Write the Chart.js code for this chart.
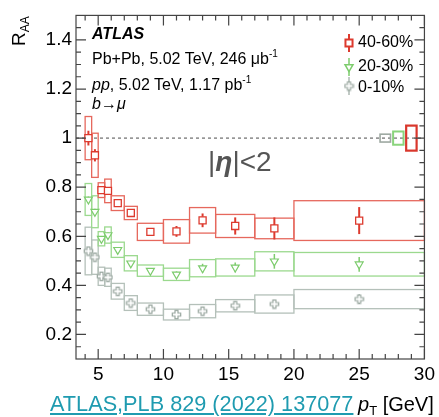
<!DOCTYPE html>
<html>
<head>
<meta charset="utf-8">
<script src="https://cdn.jsdelivr.net/npm/chart.js"></script>
<style>
body { margin: 0; background: #fff; }
#wrap { position: relative; width: 439px; height: 417px; font-family: 'Liberation Sans', Arial, sans-serif; }
.t { position: absolute; white-space: nowrap; color: #000; line-height: 1; }
.t sup { font-size: 10px; vertical-align: 0; position: relative; top: -7px; }
.t sub { vertical-align: 0; position: relative; }
</style>
</head>
<body>
<div id="wrap">
  <canvas id="myChart" width="439" height="417"></canvas>
  <div class="t" style="left:9px;top:46px;font-size:19px;transform:rotate(-90deg);transform-origin:left top;">R<sub style="font-size:12px;top:4px;">AA</sub></div>
  <div class="t" style="left:92px;top:26px;font-size:16px;font-weight:bold;font-style:italic;">ATLAS</div>
  <div class="t" style="left:92px;top:51px;font-size:16px;">Pb+Pb, 5.02 TeV, 246 μb<sup>-1</sup></div>
  <div class="t" style="left:92px;top:77px;font-size:16px;"><i>pp</i>, 5.02 TeV, 1.17 pb<sup>-1</sup></div>
  <div class="t" style="left:92px;top:96px;font-size:16px;"><i>b</i>→<i>μ</i></div>
  <div class="t" style="left:358px;top:34px;font-size:16px;">40-60%</div>
  <div class="t" style="left:358px;top:58px;font-size:16px;">20-30%</div>
  <div class="t" style="left:358px;top:79px;font-size:16px;">0-10%</div>
  <div class="t" style="left:208px;top:148px;font-size:28px;color:#555;">|<b><i>η</i></b>|&lt;2</div>
  <div class="t" style="left:50px;top:393px;font-size:21.7px;color:#1f9bb0;text-decoration:underline;">ATLAS,PLB 829 (2022) 137077</div>
  <div class="t" style="left:358px;top:394px;font-size:20px;"><i>p</i><sub style="font-size:13px;top:4px;">T</sub> [GeV]</div>
</div>
<script>
// pT bins
const binLo = [4, 4.5, 5, 5.5, 6, 7, 8, 10, 12, 14, 17, 20];
const binHi = [4.5, 5, 5.5, 6, 7, 8, 10, 12, 14, 17, 20, 30];

// 40-60%
const raa4060  = [1.00, 0.93, 0.788, 0.785, 0.735, 0.695, 0.618, 0.62, 0.665, 0.642, 0.632, 0.664];
const sys4060  = [0.088, 0.09, 0.03, 0.048, 0.03, 0.027, 0.035, 0.048, 0.052, 0.047, 0.042, 0.081];
const stat4060 = [0.03, 0.025, 0.015, 0.015, 0.012, 0.012, 0.015, 0.022, 0.028, 0.035, 0.045, 0.055];

// 20-30%
const raa2030  = [0.75, 0.70, 0.59, 0.605, 0.545, 0.49, 0.46, 0.445, 0.47, 0.473, 0.498, 0.486];
const sys2030  = [0.065, 0.065, 0.029, 0.033, 0.031, 0.031, 0.023, 0.025, 0.035, 0.035, 0.039, 0.048];
const stat2030 = [0.012, 0.012, 0.01, 0.01, 0.01, 0.01, 0.01, 0.012, 0.018, 0.02, 0.03, 0.03];

// 0-10%
const raa0010  = [0.54, 0.515, 0.437, 0.433, 0.376, 0.328, 0.303, 0.281, 0.295, 0.317, 0.324, 0.344];
const sys0010  = [0.097, 0.07, 0.037, 0.037, 0.032, 0.03, 0.025, 0.022, 0.027, 0.025, 0.037, 0.039];
const stat0010 = [0.01, 0.01, 0.008, 0.008, 0.008, 0.008, 0.008, 0.008, 0.01, 0.012, 0.015, 0.02];

// pp luminosity / TAA normalisation boxes at unity (0-10%, 20-30%, 40-60%)
const normLo  = [26.6, 27.6, 28.6];
const normHi  = [27.4, 28.4, 29.4];
const normSys = [0.016, 0.027, 0.051];

const xTicks = [5, 10, 15, 20, 25, 30];
const yTicks = [0.2, 0.4, 0.6, 0.8, 1, 1.2, 1.4];

const fontFam = "'Liberation Sans', Arial, sans-serif";
Chart.defaults.font.family = fontFam;

function crossImg(color) {
    const c = document.createElement('canvas');
    c.width = 11; c.height = 11;
    const g = c.getContext('2d');
    const m = 5.5, a = 4.2, b = 1.5;
    g.beginPath();
    g.moveTo(m - b, m - a); g.lineTo(m + b, m - a); g.lineTo(m + b, m - b);
    g.lineTo(m + a, m - b); g.lineTo(m + a, m + b); g.lineTo(m + b, m + b);
    g.lineTo(m + b, m + a); g.lineTo(m - b, m + a); g.lineTo(m - b, m + b);
    g.lineTo(m - a, m + b); g.lineTo(m - a, m - b); g.lineTo(m - b, m - b);
    g.closePath();
    g.fillStyle = '#fff'; g.fill();
    g.strokeStyle = color; g.lineWidth = 1.2; g.stroke();
    return c;
}

function points(vals) {
    return vals.map((v, i) => ({ x: (binLo[i] + binHi[i]) / 2, y: v }));
}

const grayCross = crossImg('#98a69e');

const sysBoxes = {
    id: 'sysBoxes',
    beforeDatasetsDraw(chart) {
        const { ctx, chartArea: a, scales: { x, y } } = chart;
        ctx.save();
        // unity line
        ctx.setLineDash([3, 3]);
        ctx.strokeStyle = '#888';
        ctx.lineWidth = 1.5;
        ctx.beginPath();
        ctx.moveTo(a.left, y.getPixelForValue(1));
        ctx.lineTo(a.right, y.getPixelForValue(1));
        ctx.stroke();
        ctx.setLineDash([]);

        chart.data.datasets.forEach((ds, k) => {
            ctx.strokeStyle = ds.boxColor;
            ctx.lineWidth = 1.3;
            ds.data.forEach((p, i) => {
                const x0 = x.getPixelForValue(binLo[i]), x1 = x.getPixelForValue(binHi[i]);
                const y0 = y.getPixelForValue(p.y + ds.sys[i]), y1 = y.getPixelForValue(p.y - ds.sys[i]);
                ctx.strokeRect(x0, y0, x1 - x0, y1 - y0);
            });
            // normalisation box
            ctx.strokeStyle = ds.normColor;
            ctx.lineWidth = ds.normWidth;
            const n0 = x.getPixelForValue(normLo[k]), n1 = x.getPixelForValue(normHi[k]);
            const m0 = y.getPixelForValue(1 + normSys[k]), m1 = y.getPixelForValue(1 - normSys[k]);
            ctx.strokeRect(n0, m0, n1 - n0, m1 - m0);
        });

        // stat errors
        chart.data.datasets.forEach(ds => {
            ctx.strokeStyle = ds.borderColor;
            ctx.lineWidth = ds.errWidth;
            ds.data.forEach((p, i) => {
                const px = x.getPixelForValue(p.x);
                ctx.beginPath();
                ctx.moveTo(px, y.getPixelForValue(p.y + ds.stat[i]));
                ctx.lineTo(px, y.getPixelForValue(p.y - ds.stat[i]));
                ctx.stroke();
            });
        });
        ctx.restore();
    },
    afterDraw(chart) {
        const { ctx, chartArea: a, scales: { x, y } } = chart;
        ctx.save();
        ctx.strokeStyle = '#444';
        ctx.lineWidth = 1.2;
        ctx.strokeRect(a.left, a.top, a.right - a.left, a.bottom - a.top);
        ctx.beginPath();
        for (let v = 4; v <= 30; v++) {
            const px = x.getPixelForValue(v);
            const len = xTicks.includes(v) ? 10 : 5;
            ctx.moveTo(px, a.bottom); ctx.lineTo(px, a.bottom - len);
            ctx.moveTo(px, a.top); ctx.lineTo(px, a.top + len);
        }
        for (let j = 3; j <= 29; j++) {
            const v = j * 0.05;
            const py = y.getPixelForValue(v);
            const len = j % 4 === 0 ? 10 : 5;
            ctx.moveTo(a.left, py); ctx.lineTo(a.left + len, py);
            ctx.moveTo(a.right, py); ctx.lineTo(a.right - len, py);
        }
        ctx.stroke();

        // legend markers
        const leg = [43, 67, 86];
        chart.data.datasets.slice().reverse().forEach((ds, k) => {
            const lx = 349, ly = leg[k];
            ctx.strokeStyle = ds.borderColor;
            ctx.lineWidth = ds.errWidth;
            ctx.beginPath();
            ctx.moveTo(lx, ly - 9); ctx.lineTo(lx, ly + 9);
            ctx.stroke();
            ctx.fillStyle = '#fff';
            Chart.helpers.drawPoint(ctx, {
                pointStyle: ds.pointStyle, radius: ds.pointRadius,
                rotation: ds.pointRotation || 0, borderWidth: ds.pointBorderWidth
            }, lx, ly);
        });
        ctx.restore();
    }
};

const ctx = document.getElementById('myChart').getContext('2d');
const myChart = new Chart(ctx, {
    type: 'scatter',
    data: {
        datasets: [
            {
                label: '0-10%',
                data: points(raa0010),
                sys: sys0010, stat: stat0010,
                boxColor: '#b4c0b9', normColor: '#9ea9a2', normWidth: 1.6,
                borderColor: '#98a69e', errWidth: 1.2,
                pointStyle: grayCross, pointRadius: 5, pointBorderWidth: 1.2,
                backgroundColor: '#fff'
            },
            {
                label: '20-30%',
                data: points(raa2030),
                sys: sys2030, stat: stat2030,
                boxColor: '#9bd98e', normColor: '#8ad47c', normWidth: 2,
                borderColor: '#7dcc6d', errWidth: 1.5,
                pointStyle: 'triangle', pointRotation: 180, pointRadius: 4.6, pointBorderWidth: 1.2,
                backgroundColor: '#fff'
            },
            {
                label: '40-60%',
                data: points(raa4060),
                sys: sys4060, stat: stat4060,
                boxColor: '#e6685d', normColor: '#d9372c', normWidth: 2.2,
                borderColor: '#dd3a2e', errWidth: 2,
                pointStyle: 'rect', pointRadius: 5, pointBorderWidth: 1.3,
                backgroundColor: '#fff'
            }
        ]
    },
    options: {
        responsive: false,
        animation: false,
        layout: { padding: { left: 0, right: 11, top: 13, bottom: 0 } },
        plugins: {
            legend: { display: false },
            tooltip: { enabled: false }
        },
        scales: {
            x: {
                type: 'linear',
                min: 3.3,
                max: 30,
                afterBuildTicks: s => { s.ticks = xTicks.map(v => ({ value: v })); },
                afterFit: s => { s.height = 58; },
                grid: { display: false, drawTicks: false },
                border: { display: false },
                ticks: {
                    color: '#000', padding: 4, maxRotation: 0, autoSkip: false,
                    font: { size: 19 },
                    callback: v => String(v)
                }
            },
            y: {
                type: 'linear',
                min: 0.1,
                max: 1.5,
                afterBuildTicks: s => { s.ticks = yTicks.map(v => ({ value: v })); },
                afterFit: s => { s.width = 76; },
                grid: { display: false, drawTicks: false },
                border: { display: false },
                ticks: {
                    color: '#000', padding: 4, autoSkip: false,
                    font: { size: 19 },
                    callback: v => (v === 1 ? '1' : v.toFixed(1))
                }
            }
        }
    },
    plugins: [sysBoxes]
});
</script>
</body>
</html>
